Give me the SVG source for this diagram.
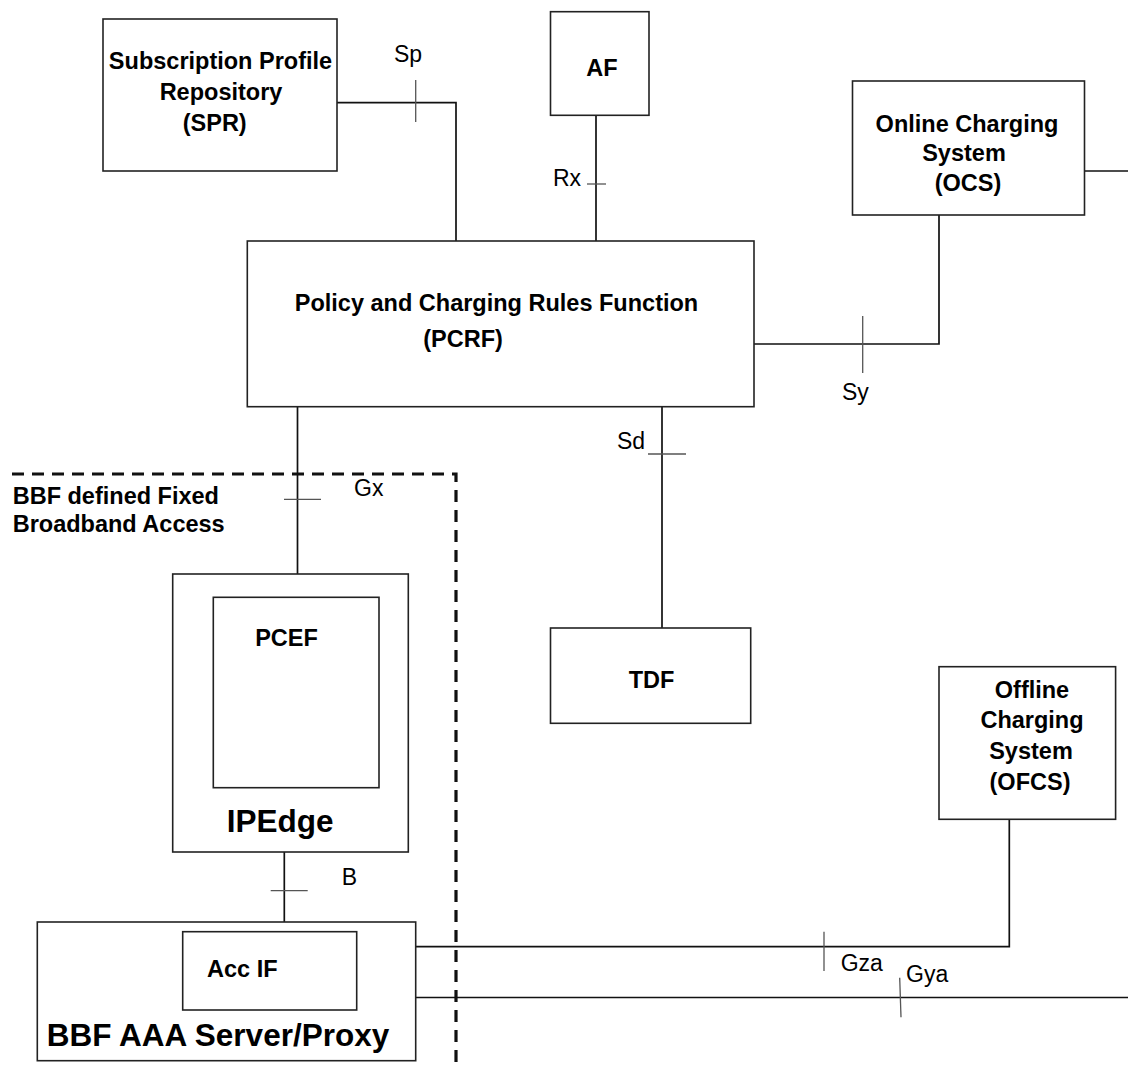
<svg xmlns="http://www.w3.org/2000/svg" width="1128" height="1068" viewBox="0 0 1128 1068">
  <style>
    .box { fill: #fff; stroke: #222; stroke-width: 1.6; }
    .conn { fill: none; stroke: #111; stroke-width: 1.7; }
    .tick { fill: none; stroke: #555; stroke-width: 1.3; }
    .dash { fill: none; stroke: #111; stroke-width: 3.2; stroke-dasharray: 12 8; }
    .b { font-family: "Liberation Sans", Arial, sans-serif; font-weight: bold; font-size: 23.5px; fill: #000; }
    .big { font-family: "Liberation Sans", Arial, sans-serif; font-weight: bold; font-size: 31.5px; fill: #000; }
    .lbl { font-family: "Liberation Sans", Arial, sans-serif; font-size: 23px; fill: #000; }
    .m { text-anchor: middle; }
  </style>
  <rect width="1128" height="1068" fill="#fff"/>

  <g id="connectors">
    <path class="conn" d="M337,102.7 H456 V241"/>
    <path class="conn" d="M596,115.3 V241"/>
    <path class="conn" d="M754,344 H939 V215"/>
    <path class="conn" d="M1078,171 H1128"/>
    <path class="conn" d="M662,406.7 V628"/>
    <path class="conn" d="M297.5,406.7 V597.3"/>
    <path class="conn" d="M284.3,852 V922"/>
    <path class="conn" d="M356.7,946.7 H1009.3 V819.3"/>
    <path class="conn" d="M356.7,997.5 H1128"/>
    <g id="ticks">
      <line class="tick" x1="415.7" y1="80" x2="415.7" y2="122"/>
      <line class="tick" x1="587" y1="184" x2="606" y2="184"/>
      <line class="tick" x1="862.7" y1="316" x2="862.7" y2="373"/>
      <line class="tick" x1="648" y1="454" x2="686" y2="454"/>
      <line class="tick" x1="284" y1="499.3" x2="321" y2="499.3"/>
      <line class="tick" x1="270.7" y1="890.7" x2="307.7" y2="890.7"/>
      <line class="tick" x1="824" y1="931.7" x2="824" y2="971"/>
      <line class="tick" x1="899.7" y1="977.7" x2="901" y2="1017.3"/>
    </g>
    <g id="labels">
      <text class="lbl" x="394" y="62">Sp</text>
      <text class="lbl" x="553" y="186">Rx</text>
      <text class="lbl" x="842" y="400">Sy</text>
      <text class="lbl" x="617" y="449">Sd</text>
      <text class="lbl" x="354" y="496">Gx</text>
      <text class="lbl" x="341.7" y="885">B</text>
      <text class="lbl" x="840.7" y="970.7">Gza</text>
      <text class="lbl" x="906" y="982">Gya</text>
    </g>
  </g>

  <g id="bbf-domain">
    <path class="dash" d="M12,474 H456 V1068"/>
    <text class="b" x="12.7" y="504">BBF defined Fixed</text>
    <text class="b" x="12.7" y="532.3">Broadband Access</text>
  </g>

  <g id="spr">
    <rect class="box" x="103" y="19" width="234" height="152"/>
    <text class="b m" x="220.5" y="69">Subscription Profile</text>
    <text class="b m" x="221" y="100">Repository</text>
    <text class="b m" x="214.7" y="131">(SPR)</text>
  </g>

  <g id="af">
    <rect class="box" x="550.5" y="11.7" width="98.5" height="103.6"/>
    <text class="b m" x="602" y="76">AF</text>
  </g>

  <g id="ocs">
    <rect class="box" x="852.5" y="81" width="232" height="134"/>
    <text class="b m" x="967" y="131.7">Online Charging</text>
    <text class="b m" x="964" y="161">System</text>
    <text class="b m" x="968" y="190.7">(OCS)</text>
  </g>

  <g id="pcrf">
    <rect class="box" x="247.3" y="241" width="506.7" height="165.7"/>
    <text class="b m" x="496.5" y="311">Policy and Charging Rules Function</text>
    <text class="b m" x="463" y="347">(PCRF)</text>
  </g>

  <g id="tdf">
    <rect class="box" x="550.5" y="628" width="200.2" height="95.3"/>
    <text class="b m" x="651.5" y="688">TDF</text>
  </g>

  <g id="ofcs">
    <rect class="box" x="939" y="666.7" width="176.6" height="152.6"/>
    <text class="b m" x="1032" y="698">Offline</text>
    <text class="b m" x="1032" y="728">Charging</text>
    <text class="b m" x="1031" y="759">System</text>
    <text class="b m" x="1030" y="790">(OFCS)</text>
  </g>

  <g id="ipedge">
    <rect class="box" x="172.7" y="574" width="235.6" height="278"/>
    <text class="big" x="226.7" y="831.7">IPEdge</text>
  </g>

  <g id="pcef">
    <rect class="box" x="213.3" y="597.3" width="165.7" height="190.4"/>
    <text class="b m" x="286.5" y="646">PCEF</text>
  </g>

  <g id="bbf-aaa">
    <rect class="box" x="37.3" y="922" width="378.4" height="138.7"/>
    <text class="big" x="46.7" y="1045.7">BBF AAA Server/Proxy</text>
  </g>

  <g id="acc-if">
    <rect class="box" x="182.7" y="931.7" width="174" height="78.3"/>
    <text class="b m" x="242.3" y="976.7">Acc IF</text>
  </g>
</svg>
